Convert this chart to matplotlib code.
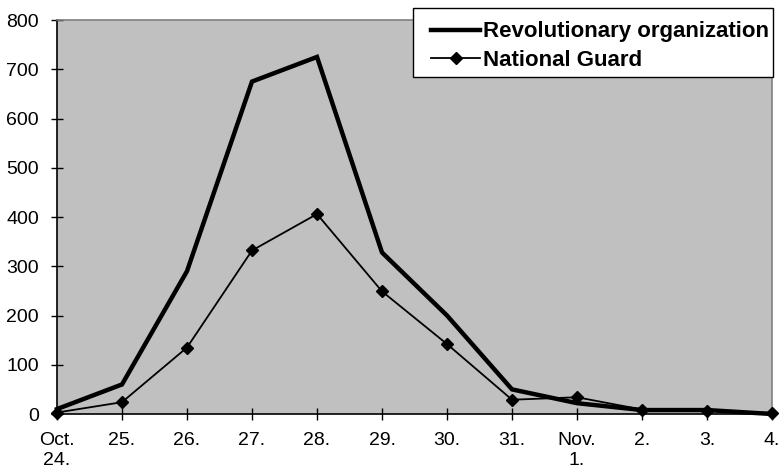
import matplotlib
matplotlib.use("Agg")
import matplotlib.pyplot as plt
from matplotlib.patches import Rectangle

categories = ["Oct.\n24.", "25.", "26.", "27.", "28.", "29.", "30.", "31.", "Nov.\n1.", "2.", "3.", "4."]
revolutionary = [10, 60, 290, 675, 725, 328, 200, 50, 22, 8, 8, 0]
national_guard = [3, 24, 135, 332, 406, 249, 142, 29, 34, 9, 7, 2]
yticks = [0, 100, 200, 300, 400, 500, 600, 700, 800]

plt.rcParams['font.family'] = ['Liberation Sans', 'DejaVu Sans']

W, H = 781, 469
fig = plt.figure(figsize=(W/100, H/100), dpi=100)
ax = fig.add_axes([57/W, 1-414/H, (772-57)/W, (414-20)/H])
ax.set_facecolor('#c0c0c0')
x = list(range(len(categories)))
ax.plot(x, revolutionary, color='black', lw=3.2, label='Revolutionary organization', solid_joinstyle='miter', clip_on=False, zorder=3)
ax.plot(x, national_guard, color='black', lw=1.3, marker='D', markersize=6.5, label='National Guard', clip_on=False, zorder=4)
ax.set_xlim(0, len(categories)-1)
ax.set_ylim(0, 800)
ax.set_yticks(yticks)
ax.set_xticks(x)
ax.set_xticklabels(categories, fontsize=14, linespacing=1.25)
ax.set_yticklabels([str(v) for v in yticks], fontsize=14)
ax.tick_params(axis='both', direction='inout', length=8, width=1, color='black')
ax.tick_params(axis='y', pad=9)
ax.tick_params(axis='x', pad=9)
for s in ['left', 'bottom']:
    ax.spines[s].set_color('black')
    ax.spines[s].set_linewidth(1.2)
for s in ['top', 'right']:
    ax.spines[s].set_color('#808080')
    ax.spines[s].set_linewidth(1.2)

# legend frame box
fig.patches.append(Rectangle((413/W, 1-77/H), (773-413)/W, (77-8)/H, transform=fig.transFigure,
                             facecolor='white', edgecolor='black', linewidth=1.0, zorder=5))
leg = fig.legend(loc='upper left', bbox_to_anchor=(427/W, 1-17/H),
                 prop={'weight': 'bold', 'size': 16}, frameon=False,
                 handlelength=2.2, handletextpad=0.1, borderpad=0.2, labelspacing=0.35,
                 borderaxespad=0)
leg.set_zorder(6)
fig.savefig('out.png', dpi=100)
